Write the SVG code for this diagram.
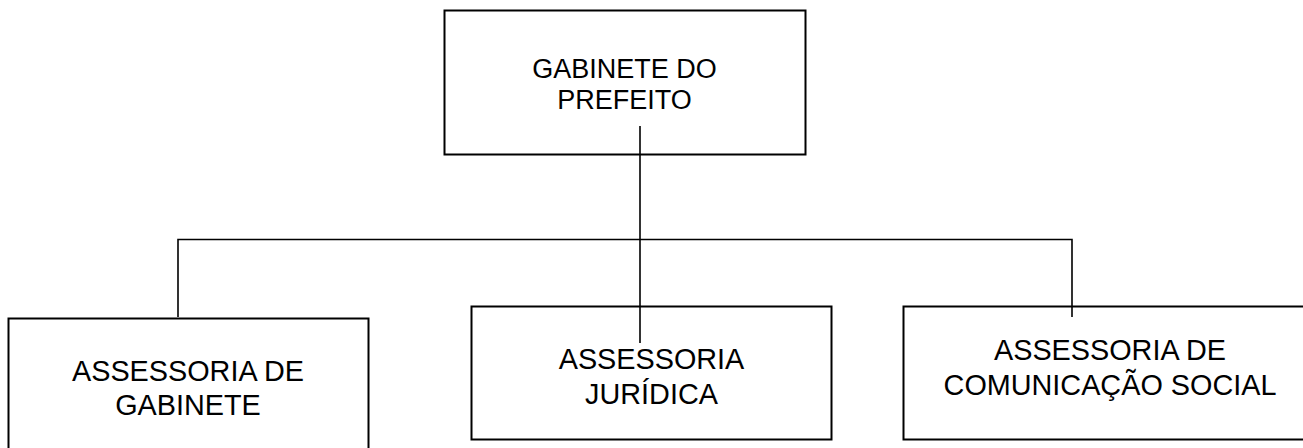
<svg xmlns="http://www.w3.org/2000/svg" width="1303" height="448" viewBox="0 0 1303 448">
<style>
.box{fill:#fff;stroke:#000;stroke-width:2}
.t{font-family:"Liberation Sans",Arial,sans-serif;fill:#000;text-anchor:middle}
.c{stroke:#000;stroke-width:1.6;fill:none}
</style>
<rect width="1303" height="448" fill="#fff"/>
<g id="n-gabinete-prefeito">
<rect class="box" x="444.5" y="10.5" width="361" height="144"/>
<text class="t" font-size="27" x="624.5" y="77.5">GABINETE DO</text>
<text class="t" font-size="27" x="624.5" y="108.5">PREFEITO</text>
</g>
<g id="n-assessoria-gabinete">
<rect class="box" x="8.5" y="318.5" width="360" height="140"/>
<text class="t" font-size="28.8" x="188" y="381">ASSESSORIA DE</text>
<text class="t" font-size="28.8" x="188" y="414.5">GABINETE</text>
</g>
<g id="n-assessoria-juridica">
<rect class="box" x="471.5" y="306.5" width="360" height="133"/>
<text class="t" font-size="28.8" x="651.5" y="368.5">ASSESSORIA</text>
<text class="t" font-size="28.8" x="651.5" y="403.5">JURÍDICA</text>
</g>
<g id="n-assessoria-comunicacao">
<rect class="box" x="903.5" y="306.5" width="420" height="133"/>
<text class="t" font-size="28.8" x="1110" y="360">ASSESSORIA DE</text>
<text class="t" font-size="28.8" x="1110" y="395">COMUNICAÇÃO SOCIAL</text>
</g>
<g id="connectors">
<line class="c" x1="640" y1="126" x2="640" y2="343"/>
<polyline class="c" points="178,317 178,239.5 1072,239.5 1072,317"/>
</g>
</svg>
